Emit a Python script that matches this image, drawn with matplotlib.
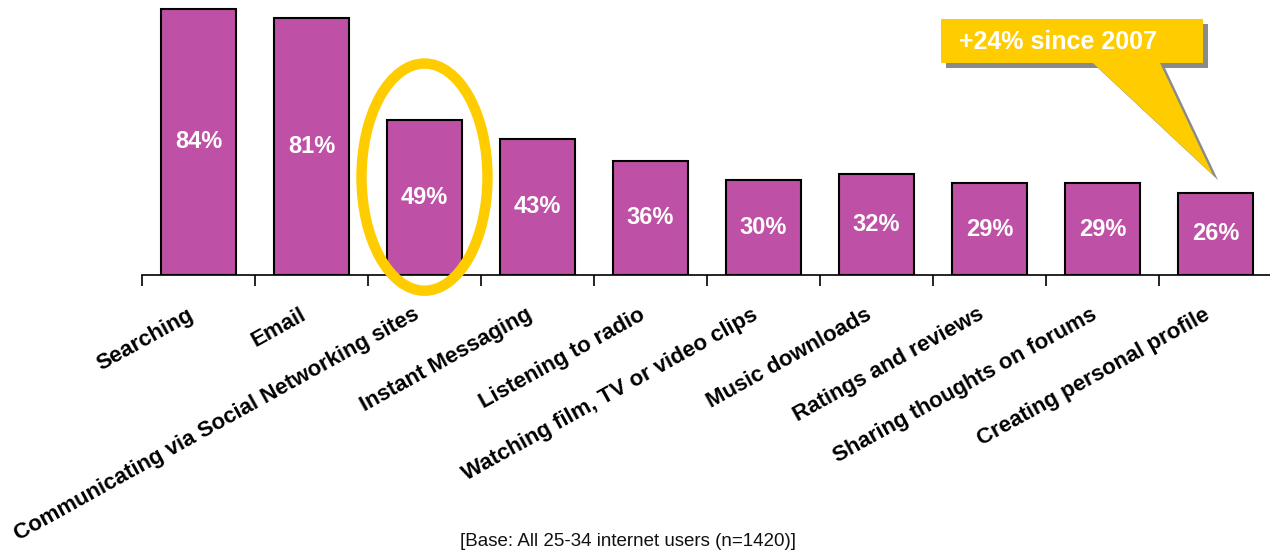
import matplotlib
matplotlib.use("Agg")
import matplotlib.pyplot as plt
from matplotlib.patches import Ellipse, Polygon
import numpy as np

# Online activities of 25-34 year old internet users
categories = [
    "Searching",
    "Email",
    "Communicating via Social Networking sites",
    "Instant Messaging",
    "Listening to radio",
    "Watching film, TV or video clips",
    "Music downloads",
    "Ratings and reviews",
    "Sharing thoughts on forums",
    "Creating personal profile",
]
shares = [84, 81, 49, 43, 36, 30, 32, 29, 29, 26]
highlight_idx = 2
callout_text = "+24% since 2007"
footnote = "[Base: All 25-34 internet users (n=1420)]"

BAR_COLOR = "#BE51A5"
GOLD = "#FFCC00"

plt.rcParams["font.family"] = ["Liberation Sans", "DejaVu Sans"]

W, H = 1270, 552
fig = plt.figure(figsize=(W / 100, H / 100), dpi=100)
ax = fig.add_axes([142 / W, (H - 275) / H, 1130 / W, 275 / H])

x = np.arange(len(categories))
ax.bar(x, shares, width=0.67, color=BAR_COLOR, edgecolor="black", linewidth=1.5, zorder=2)
ax.set_xlim(-0.5, len(categories) - 0.5)
ax.set_ylim(0, 86.8)

for xi, v in zip(x, shares):
    ax.text(xi, v / 2, f"{v}%", ha="center", va="center", color="white",
            fontsize=17, fontweight="bold", zorder=3)

# category boundaries get the ticks, labels sit under each bar
for side in ["left", "right", "top"]:
    ax.spines[side].set_visible(False)
ax.spines["bottom"].set_linewidth(1.2)
ax.set_yticks([])
ax.set_xticks(np.arange(-0.5, len(categories), 1.0))
ax.set_xticklabels([])
ax.tick_params(axis="x", direction="out", length=8, width=1.2)

for xi, name in zip(x, categories):
    ax.annotate(name, xy=(xi - 0.105, 0), xycoords="data", xytext=(0, -21),
                textcoords="offset points", ha="right", va="top",
                rotation=29, rotation_mode="anchor", fontsize=16,
                fontweight="bold", annotation_clip=False)

# ring around the social networking bar
ring = Ellipse((highlight_idx, 30.9), width=1.115, height=71.7, fill=False,
               edgecolor=GOLD, linewidth=7.5, zorder=5, clip_on=False)
ax.add_patch(ring)

# speech-bubble callout, drawn in pixel space over the whole figure
ov = fig.add_axes([0, 0, 1, 1], facecolor="none")
ov.set_xlim(0, W)
ov.set_ylim(H, 0)
ov.axis("off")

box = [(941, 19), (1203, 19), (1203, 63), (1160, 63), (1213, 175), (1093, 63), (941, 63)]
shadow = [(px + 5, py + 5) for px, py in box]
ov.add_patch(Polygon(shadow, closed=True, facecolor="#8A8A8A", edgecolor="none", zorder=1))
ov.add_patch(Polygon(box, closed=True, facecolor=GOLD, edgecolor="none", zorder=2))
ov.text(959, 42, callout_text, ha="left", va="center", color="white",
        fontsize=18, fontweight="bold", zorder=3)

ov.text(628, 541, footnote, ha="center", va="center", fontsize=13.5, color="#111111")

fig.savefig("out.png", dpi=100, facecolor="white")
